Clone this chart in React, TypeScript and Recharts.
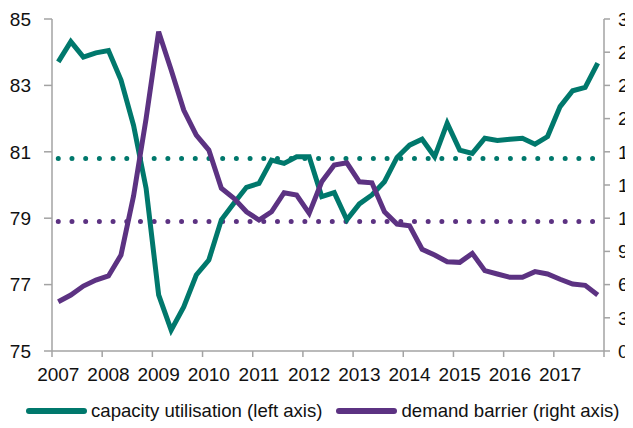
import React from 'react';
import {
  LineChart,
  Line,
  XAxis,
  YAxis,
  ReferenceLine,
  Legend,
} from 'recharts';

const YEARS = ['2007', '2008', '2009', '2010', '2011', '2012', '2013', '2014', '2015', '2016', '2017'];
const QUARTERS = YEARS.flatMap((y) => [`${y}Q1`, `${y}Q2`, `${y}Q3`, `${y}Q4`]);

// capacity utilisation, %, left axis
const capacity = [
  83.71, 84.32, 83.85, 83.98, 84.05, 83.16, 81.8, 79.9, 76.69, 75.63,
  76.33, 77.29, 77.74, 78.95, 79.45, 79.93, 80.05, 80.75, 80.65, 80.85,
  80.85, 79.65, 79.77, 78.95, 79.43, 79.7, 80.1, 80.83, 81.2, 81.38,
  80.85, 81.86, 81.05, 80.95, 81.41, 81.34, 81.38, 81.41, 81.23, 81.46,
  82.36, 82.84, 82.94, 83.67,
];

// demand as a barrier to production, %, right axis
const demand = [
  4.45, 5.06, 5.87, 6.41, 6.78, 8.67, 14.0, 21.0, 28.85, 25.4,
  21.77, 19.5, 18.16, 14.7, 13.8, 12.58, 11.83, 12.58, 14.3, 14.09,
  12.44, 15.29, 16.8, 17.0, 15.29, 15.2, 12.58, 11.47, 11.32, 9.19,
  8.67, 8.07, 8.01, 8.82, 7.26, 6.96, 6.66, 6.66, 7.17, 6.96,
  6.48, 6.05, 5.93, 5.06,
];

const CAPACITY_AVG = 80.8;
const DEMAND_AVG = 11.7;

const LEFT_TICKS = [75, 77, 79, 81, 83, 85];
const RIGHT_TICKS = [0, 3, 6, 9, 12, 15, 18, 21, 24, 27, 30];

const data = QUARTERS.map((q, i) => ({
  quarter: q,
  capacity: capacity[i],
  demand: demand[i],
}));

const GREEN = '#00786c';
const PURPLE = '#5c3282';
const AXIS = '#a3a3a3';
const FONT = '"Liberation Sans", Arial, sans-serif';

const PLOT_W = 552;
const STEP = PLOT_W / QUARTERS.length;

const YearTick = (props: any) => {
  const { x, y, index } = props;
  return (
    <g>
      {index % 4 === 0 && (
        <>
          <line x1={x - STEP / 2} x2={x - STEP / 2} y1={y} y2={y + 6} stroke={AXIS} strokeWidth={1.5} />
          <text x={x} y={y + 17} dy='0.71em' textAnchor='middle' fill='#111' fontSize={19} fontFamily={FONT}>
            {QUARTERS[index].slice(0, 4)}
          </text>
        </>
      )}
      {index === QUARTERS.length - 1 && (
        <line x1={x + STEP / 2} x2={x + STEP / 2} y1={y} y2={y + 6} stroke={AXIS} strokeWidth={1.5} />
      )}
    </g>
  );
};

const legendItems = [
  { label: 'capacity utilisation (left axis)', color: GREEN },
  { label: 'demand barrier (right axis)', color: PURPLE },
];

const renderLegend = () => (
  <div style={{ display: 'flex', alignItems: 'center', paddingLeft: 18, fontFamily: FONT, fontSize: 18.6, color: '#111' }}>
    {legendItems.map((it, i) => (
      <div key={it.label} style={{ display: 'flex', alignItems: 'center', marginRight: i === 0 ? 14 : 0 }}>
        <div style={{ width: 61, height: 6, borderRadius: 3, background: it.color, marginRight: 4 }} />
        <span style={{ whiteSpace: 'nowrap' }}>{it.label}</span>
      </div>
    ))}
  </div>
);

export default function App() {
  return (
    <div style={{ width: 625, overflow: 'hidden' }}>
      <LineChart
        width={660}
        height={420}
        data={data}
        margin={{ top: 11, right: 0, bottom: 2, left: 0 }}
      >
        <XAxis
          dataKey='quarter'
          height={49}
          interval={0}
          padding={{ left: STEP / 2, right: STEP / 2 }}
          axisLine={{ stroke: AXIS, strokeWidth: 1.5 }}
          tickLine={false}
          tickSize={0}
          tickMargin={0}
          tick={<YearTick />}
        />
        <YAxis
          yAxisId='left'
          width={44}
          domain={[75, 85]}
          ticks={LEFT_TICKS}
          interval={0}
          axisLine={{ stroke: AXIS, strokeWidth: 1.5 }}
          tickLine={{ stroke: AXIS, strokeWidth: 1.5 }}
          tickSize={8}
          tickMargin={13}
          tick={{ fill: '#111', fontSize: 19, fontFamily: FONT }}
        />
        <YAxis
          yAxisId='right'
          orientation='right'
          width={64}
          domain={[0, 30]}
          ticks={RIGHT_TICKS}
          interval={0}
          axisLine={{ stroke: AXIS, strokeWidth: 1.5 }}
          tickLine={{ stroke: AXIS, strokeWidth: 1.5 }}
          tickSize={6}
          tickMargin={8}
          tick={{ fill: '#111', fontSize: 19, fontFamily: FONT, textAnchor: 'start' }}
        />
        <ReferenceLine
          yAxisId='left'
          segment={[
            { x: QUARTERS[0], y: CAPACITY_AVG },
            { x: QUARTERS[QUARTERS.length - 1], y: CAPACITY_AVG },
          ]}
          stroke={GREEN}
          strokeWidth={5}
          strokeLinecap='round'
          strokeDasharray='0 13.7'
        />
        <ReferenceLine
          yAxisId='right'
          segment={[
            { x: QUARTERS[0], y: DEMAND_AVG },
            { x: QUARTERS[QUARTERS.length - 1], y: DEMAND_AVG },
          ]}
          stroke={PURPLE}
          strokeWidth={5}
          strokeLinecap='round'
          strokeDasharray='0 13.7'
        />
        <Line
          yAxisId='left'
          type='linear'
          dataKey='capacity'
          stroke={GREEN}
          strokeWidth={5}
          dot={false}
          isAnimationActive={false}
        />
        <Line
          yAxisId='right'
          type='linear'
          dataKey='demand'
          stroke={PURPLE}
          strokeWidth={5}
          dot={false}
          isAnimationActive={false}
        />
        <Legend verticalAlign='bottom' height={26} content={renderLegend} />
      </LineChart>
    </div>
  );
}
